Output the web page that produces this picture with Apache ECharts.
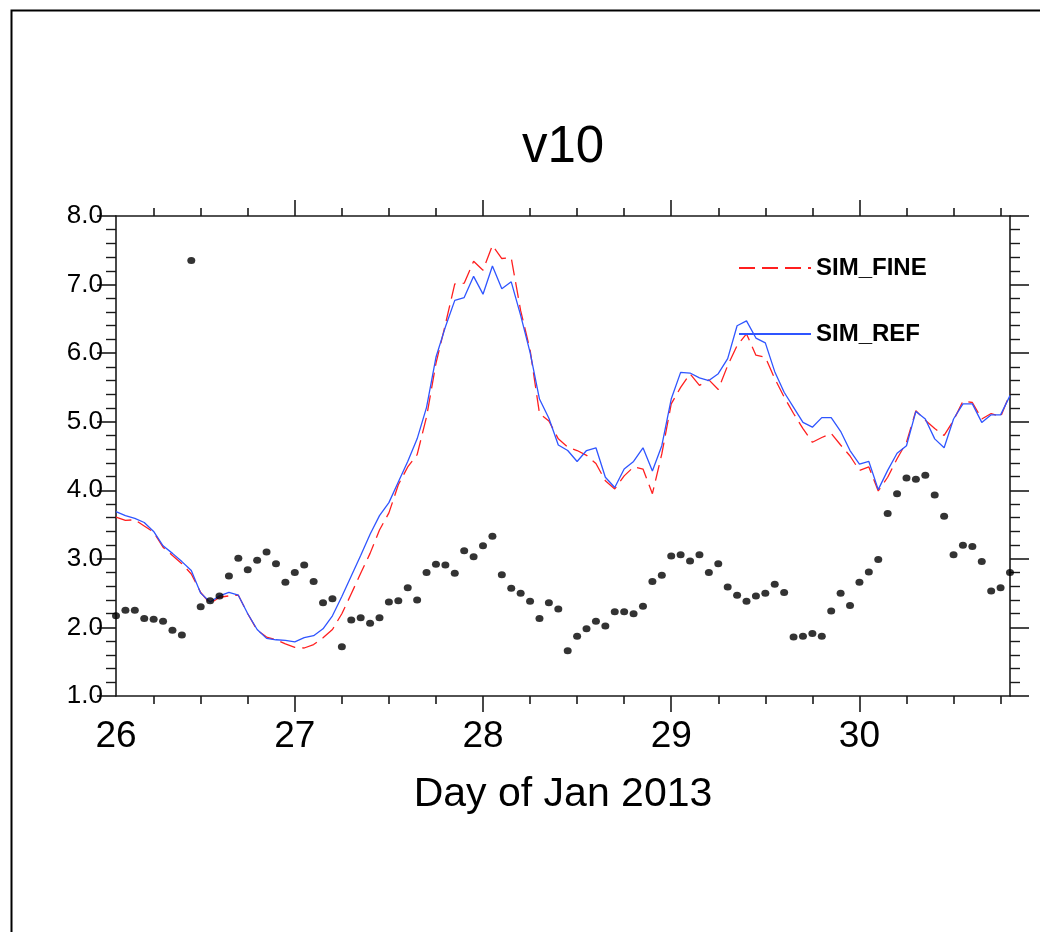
<!DOCTYPE html>
<html>
<head>
<meta charset="utf-8">
<script src="https://cdn.jsdelivr.net/npm/echarts@6/dist/echarts.min.js"></script>
<style>
html,body{margin:0;padding:0;background:#fff;}
#chart{width:1040px;height:932px;}
</style>
</head>
<body>
<div id="chart"></div>
<script>
// ---- data ----
const chartTitle = 'v10';
const xAxisTitle = 'Day of Jan 2013';
const seriesNames = ['SIM_FINE', 'SIM_REF', 'OBS'];

// time in days of Jan 2013
const times = [
  26.05,26.10,26.15,26.20,26.25,26.30,26.35,26.40,26.45,26.50,26.55,26.60,26.65,26.70,26.75,26.80,26.85,26.90,26.95,27.00,
  27.05,27.10,27.15,27.20,27.25,27.30,27.35,27.40,27.45,27.50,27.55,27.60,27.65,27.70,27.75,27.80,27.85,27.90,27.95,28.00,
  28.05,28.10,28.15,28.20,28.25,28.30,28.35,28.40,28.45,28.50,28.55,28.60,28.65,28.70,28.75,28.80,28.85,28.90,28.95,29.00,
  29.05,29.10,29.15,29.20,29.25,29.30,29.35,29.40,29.45,29.50,29.55,29.60,29.65,29.70,29.75,29.80,29.85,29.90,29.95,30.00,
  30.05,30.10,30.15,30.20,30.25,30.30,30.35,30.40,30.45,30.50,30.55,30.60,30.65,30.70,30.75,30.80
];

const simFine = [
  3.61,3.56,3.57,3.48,3.39,3.17,3.05,2.93,2.78,2.51,
  2.35,2.44,2.46,2.47,2.20,1.96,1.86,1.82,1.76,1.71,
  1.70,1.75,1.85,1.97,2.20,2.49,2.79,3.08,3.42,3.67,
  4.08,4.34,4.52,5.07,5.85,6.42,7.01,7.02,7.34,7.21,
  7.57,7.38,7.39,6.62,6.05,5.12,5.01,4.75,4.63,4.58,
  4.51,4.39,4.14,4.02,4.21,4.34,4.31,3.95,4.53,5.26,
  5.50,5.70,5.53,5.61,5.47,5.82,6.11,6.28,5.97,5.94,
  5.63,5.36,5.12,4.90,4.70,4.77,4.83,4.66,4.50,4.29,
  4.34,3.99,4.19,4.46,4.70,5.16,5.02,4.90,4.80,5.02,
  5.30,5.28,5.04,5.12,5.07,5.41
];

const simRef = [
  3.69,3.63,3.59,3.53,3.40,3.19,3.08,2.96,2.83,2.50,
  2.37,2.46,2.51,2.47,2.20,1.97,1.84,1.82,1.81,1.79,
  1.85,1.88,1.98,2.17,2.45,2.75,3.05,3.36,3.63,3.82,
  4.12,4.42,4.75,5.21,5.94,6.38,6.77,6.81,7.12,6.86,
  7.27,6.94,7.04,6.55,6.01,5.33,5.05,4.66,4.58,4.42,
  4.58,4.62,4.19,4.04,4.31,4.42,4.62,4.28,4.65,5.33,
  5.72,5.71,5.64,5.60,5.70,5.92,6.40,6.47,6.22,6.15,
  5.73,5.43,5.21,4.99,4.92,5.06,5.06,4.86,4.58,4.38,
  4.42,4.01,4.29,4.54,4.65,5.15,5.04,4.75,4.62,5.04,
  5.26,5.26,4.99,5.10,5.10,5.38
];

const obs = [
  2.17,2.25,2.25,2.13,2.12,2.09,1.96,1.89,7.35,2.30,
  2.39,2.46,2.75,3.01,2.84,2.98,3.10,2.93,2.66,2.80,
  2.91,2.67,2.36,2.42,1.72,2.11,2.14,2.06,2.14,2.37,
  2.39,2.58,2.40,2.80,2.92,2.91,2.79,3.12,3.03,3.19,
  3.33,2.77,2.57,2.50,2.38,2.13,2.36,2.27,1.66,1.87,
  1.98,2.09,2.02,2.23,2.23,2.20,2.31,2.67,2.76,3.04,
  3.06,2.97,3.06,2.80,2.93,2.59,2.47,2.38,2.46,2.50,
  2.63,2.51,1.86,1.87,1.91,1.87,2.24,2.50,2.32,2.66,
  2.81,2.99,3.66,3.95,4.18,4.16,4.22,3.93,3.62,3.06,
  3.20,3.18,2.96,2.53,2.58,2.80
];

// axis ticks
const xMin = 26.05, xMax = 30.80;
const xLabelValues = [26.05, 27, 28, 29, 30];
const xMajorTicks = [27, 28, 29, 30];
const xMinorTicks = [26.25,26.5,26.75,27.25,27.5,27.75,28.25,28.5,28.75,29.25,29.5,29.75,30.25,30.5,30.75];
const yMin = 1, yMax = 8, yStep = 1;

// ---- chart ----
const FONT = '"Liberation Sans", Arial, Helvetica, sans-serif';
const AX = '#1a1a1a';
const chart = echarts.init(document.getElementById('chart'), null, {renderer: 'canvas'});

function pairs(vals) { return vals.map((v, i) => [times[i], v]); }

const gridBox = {left: 116, top: 216, width: 894, height: 480};

function xAx(position, ticks, len, extra) {
  return Object.assign({
    type: 'value', position: position, min: xMin, max: xMax, gridIndex: 0,
    axisLine: {show: true, onZero: false, lineStyle: {color: AX, width: 1.6}},
    axisTick: {show: true, inside: false, length: len, customValues: ticks, lineStyle: {color: AX, width: 1.6}},
    axisLabel: {show: false},
    splitLine: {show: false}
  }, extra || {});
}

function yAx(position, showLabel) {
  return {
    type: 'value', position: position, min: yMin, max: yMax, interval: yStep,
    axisLine: {show: true, onZero: false, lineStyle: {color: AX, width: 1.6}},
    axisTick: {show: true, inside: false, length: 19, lineStyle: {color: AX, width: 1.6}},
    minorTick: {show: true, splitNumber: 5, length: 10, lineStyle: {color: AX, width: 1.4}},
    axisLabel: {show: showLabel, margin: 13, fontFamily: FONT, fontSize: 26, color: '#000',
      formatter: v => v.toFixed(1)},
    splitLine: {show: false}
  };
}

chart.setOption({
  backgroundColor: '#fff',
  animation: false,
  title: {
    text: chartTitle, left: 563, textAlign: 'center', top: 122, padding: 0,
    textStyle: {fontFamily: FONT, fontSize: 51, fontWeight: 'normal', color: '#000'}
  },
  grid: gridBox,
  legend: {
    orient: 'vertical', left: 738, top: 256, padding: 0, itemWidth: 72, itemHeight: 2, itemGap: 42,
    data: ['SIM_FINE', 'SIM_REF'],
    itemStyle: {opacity: 0},
    textStyle: {fontFamily: FONT, fontSize: 24, fontWeight: 'bold', color: '#000', lineHeight: 24}
  },
  xAxis: [
    xAx('bottom', xMajorTicks, 16, {
      axisLabel: {show: true, customValues: xLabelValues, margin: 22, fontFamily: FONT, fontSize: 37, color: '#000',
        formatter: v => String(Math.floor(v + 1e-6))},
      name: xAxisTitle, nameLocation: 'middle', nameGap: 78,
      nameTextStyle: {fontFamily: FONT, fontSize: 41, color: '#000'}
    }),
    xAx('bottom', xMinorTicks, 8, {axisLine: {show: false}}),
    xAx('top', xMajorTicks, 16),
    xAx('top', xMinorTicks, 8, {axisLine: {show: false}})
  ],
  yAxis: [yAx('left', true), yAx('right', false)],
  graphic: [{
    type: 'rect', left: 9, top: 8, silent: true,
    shape: {width: 1060, height: 960},
    style: {fill: null, stroke: '#000', lineWidth: 2}
  }],
  series: [
    {name: 'SIM_FINE', type: 'line', xAxisIndex: 0, yAxisIndex: 0, data: pairs(simFine),
      symbol: 'none', lineStyle: {color: '#ff1f1f', width: 1.3, type: [16, 7]}, itemStyle: {color: '#ff1f1f'}, z: 3},
    {name: 'SIM_REF', type: 'line', xAxisIndex: 0, yAxisIndex: 0, data: pairs(simRef),
      symbol: 'none', lineStyle: {color: '#2f55ff', width: 1.3}, itemStyle: {color: '#2f55ff'}, z: 4},
    {name: 'OBS', type: 'scatter', xAxisIndex: 0, yAxisIndex: 0, data: pairs(obs),
      symbol: 'circle', symbolSize: [8, 7], itemStyle: {color: '#000'}, z: 5}
  ]
});
</script>
</body>
</html>
